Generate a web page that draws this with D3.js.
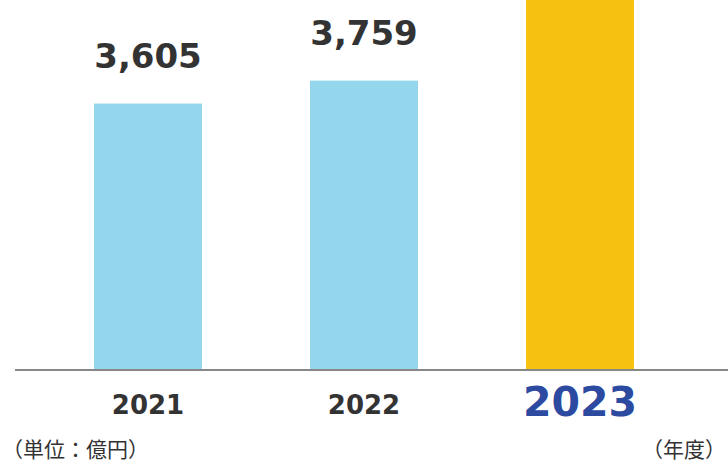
<!DOCTYPE html>
<html><head><meta charset="utf-8">
<script src="https://cdn.jsdelivr.net/npm/d3@7"></script>
<style>body{margin:0;background:#fff}</style>
</head><body>
<script>
const years = ['2021', '2022', '2023'];
const values = [3605, 3759, 4450];
const labels = ['3,605', '3,759', ''];
const colors = ['#94d7ec', '#94d7ec', '#f7c112'];

const W = 728, H = 466, base = 370;
const svg = d3.select('body').append('svg').attr('width', W).attr('height', H);

const x = d3.scaleBand().domain(years).range([40, 688]).paddingInner(0.5).paddingOuter(0.25);
const y = d3.scaleLinear().domain([1817, 4300]).range([base, 0]);

svg.selectAll('rect.bar').data(years).enter().append('rect')
  .attr('x', d => x(d)).attr('width', x.bandwidth())
  .attr('y', (d, i) => y(values[i])).attr('height', (d, i) => base - y(values[i]))
  .attr('fill', (d, i) => colors[i]);

svg.selectAll('text.val').data(years).enter().append('text')
  .attr('x', d => x(d) + x.bandwidth() / 2)
  .attr('y', (d, i) => y(values[i]) - 36)
  .attr('text-anchor', 'middle')
  .style('font', 'bold 34px "DejaVu Sans"').attr('fill', '#333')
  .text((d, i) => labels[i]);

svg.append('line').attr('x1', 15).attr('x2', W).attr('y1', base).attr('y2', base)
  .attr('stroke', '#888').attr('stroke-width', 2);

svg.selectAll('text.yr').data(years).enter().append('text')
  .attr('x', d => x(d) + x.bandwidth() / 2)
  .attr('y', (d, i) => i == 2 ? 416 : 414)
  .attr('text-anchor', 'middle')
  .style('font', (d, i) => i == 2 ? 'bold 41px "DejaVu Sans"' : 'bold 26px "DejaVu Sans"')
  .attr('fill', (d, i) => i == 2 ? '#2b4aa0' : '#333')
  .text(d => d);

svg.append('text').attr('x', 2).attr('y', 457)
  .style('font', '21px "Noto Sans CJK JP"').attr('fill', '#333').text('（単位：億円）');
svg.append('text').attr('x', 726).attr('y', 457).attr('text-anchor', 'end')
  .style('font', '21px "Noto Sans CJK JP"').attr('fill', '#333').text('（年度）');
</script>
</body></html>
